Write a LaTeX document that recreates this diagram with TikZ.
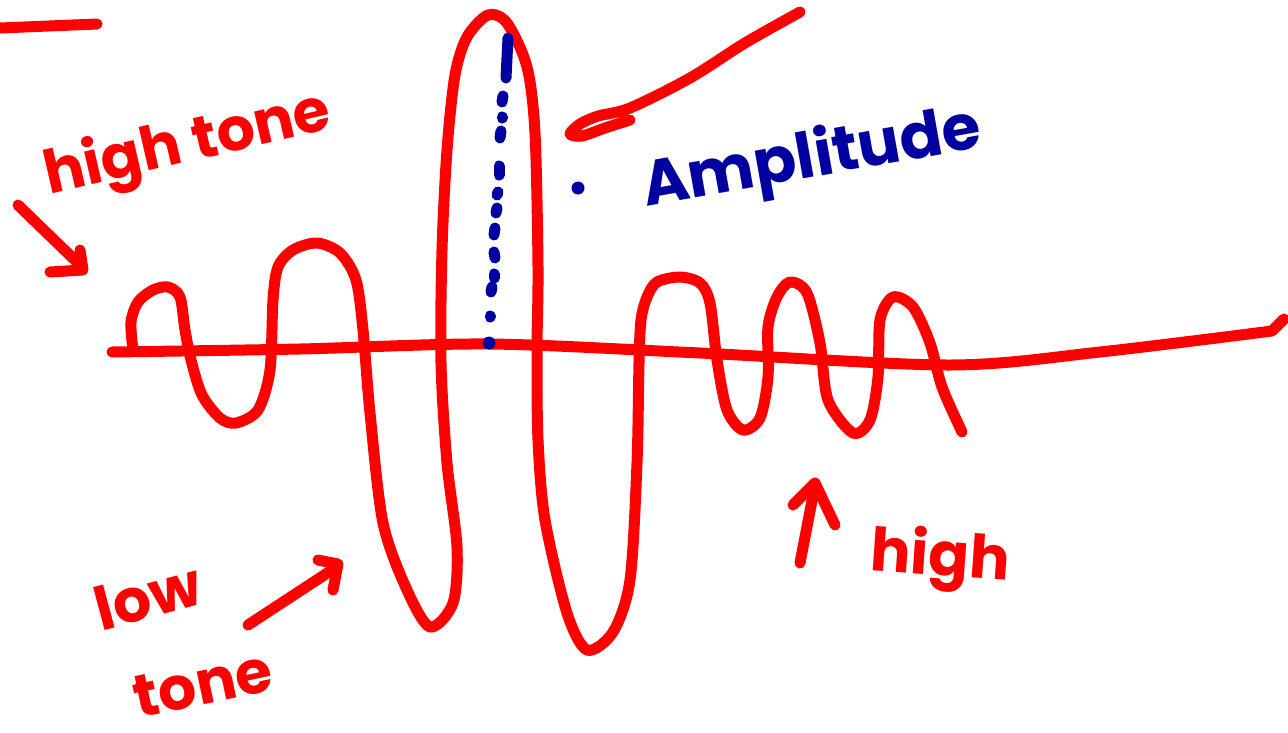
\documentclass[tikz,border=0pt]{standalone}
\usepackage{fontspec}
\setmainfont{Poppins}
\definecolor{penred}{RGB}{255,0,0}
\definecolor{penblue}{RGB}{0,0,160}
\tikzset{
  redpen/.style={draw=penred, line width=11pt, line cap=round, line join=round},
  bluepen/.style={draw=penblue, line width=11pt, line cap=round, line join=round},
  redtext/.style={text=penred, font=\bfseries\fontsize{60}{60}\selectfont, inner sep=0pt},
  bluetext/.style={text=penblue, font=\bfseries\fontsize{63}{63}\selectfont, inner sep=0pt},
  bluedot/.style={fill=penblue, draw=none}
}
\begin{document}
\begin{tikzpicture}[x=1pt,y=-1pt]
\useasboundingbox (0,0) rectangle (1288,732);
\fill[white] (0,0) rectangle (1288,732);

% short stroke top left
\coordinate (tlA) at (0,28);
\coordinate (tlB) at (97,24);
\draw[redpen] (tlA) -- (tlB);

% baseline
\draw[redpen] plot[smooth, tension=0.5] coordinates {(112,352) (300,349) (490,344) (700,353) (950,365) (1100,352) (1272,331)} -- (1284,319);

% waveform
\draw[redpen] plot[smooth, tension=0.5] coordinates {
(133,350) (131,322) (138,302) (153,290) (168,287) (180,297) (185,330) (191,360) (202,395) (220,418) (236,423) (258,410) (270,370) (273,300) (278,267) (293,250) (317,243) (340,253) (356,280) (363,330) (370,413) (383,523) (407,590) (430,627) (453,603) (457,547) (447,463) (441,363) (442,250) (447,150) (455,75) (467,37) (488,15) (507,23) (527,67) (535,133) (538,267) (537,350) (538,440) (545,520) (567,613) (587,650) (613,632) (630,580) (637,463) (639,363) (641,320) (647,297) (657,282) (680,277) (700,283) (710,303) (717,360) (727,410) (743,430) (760,418) (768,377) (768,327) (777,297) (790,282) (807,293) (820,343) (828,400) (853,433) (870,420) (878,377) (880,320) (893,297) (913,307) (930,343) (942,387) (962,432)};

% texts
\node[redtext, rotate=13] (hightone) at (188,146) {high tone};
\node[bluetext, rotate=10] (amp) at (812,160) {Amplitude};
\node[redtext, rotate=15] (low) at (148,596) {low};
\node[redtext, rotate=12] (tone) at (203,684) {tone};
\node[redtext, rotate=-4] (high) at (940,560) {high};

% arrow high tone
\coordinate (htA) at (18,205);
\coordinate (htB) at (80,265);
\coordinate (htC) at (80,250);
\coordinate (htD) at (83,270);
\coordinate (htE) at (50,272);
\draw[redpen] (htA) -- (htB);
\draw[redpen] (htC) -- (htD) -- (htE);

% arrow to amplitude peak
\draw[redpen] plot[smooth, tension=0.5] coordinates {(800,12) (745,43) (690,78) (630,108) (598,116) (580,124) (570,134) (582,136) (605,128) (630,120)};

% amplitude dotted line
\coordinate (amA) at (508,38);
\coordinate (amB) at (506,78);
\draw[bluepen] (amA) -- (amB);
\draw[bluepen] (503,96) -- (502,102);
\draw[bluepen] (502,117) -- (502,118);
\draw[bluepen] (501,131) -- (500,138);
\draw[bluepen] (499,166) -- (499,175);
\draw[bluepen] (498,192) -- (497,195);
\draw[bluepen] (497,208) -- (496,213);
\draw[bluepen] (495,228) -- (494,235);
\draw[bluepen] (494,252) -- (495,258);
\draw[bluepen] (494,274) -- (494,278);
\draw[bluepen] (492,287) -- (491,292);
\draw[bluepen] (490,316) -- (490,317);
\fill[bluedot] (489,343) circle (6.5);
\fill[bluedot] (578,188) circle (6.5);

% arrow low tone
\coordinate (ltA) at (248,625);
\coordinate (ltB) at (335,568);
\coordinate (ltC) at (318,560);
\coordinate (ltD) at (338,564);
\coordinate (ltE) at (333,590);
\draw[redpen] (ltA) -- (ltB);
\draw[redpen] (ltC) -- (ltD) -- (ltE);

% arrow high
\coordinate (hA) at (800,563);
\coordinate (hB) at (815,485);
\coordinate (hC) at (793,505);
\coordinate (hD) at (815,483);
\coordinate (hE) at (835,525);
\draw[redpen] (hA) -- (hB);
\draw[redpen] (hC) -- (hD) -- (hE);
\end{tikzpicture}
\end{document}
